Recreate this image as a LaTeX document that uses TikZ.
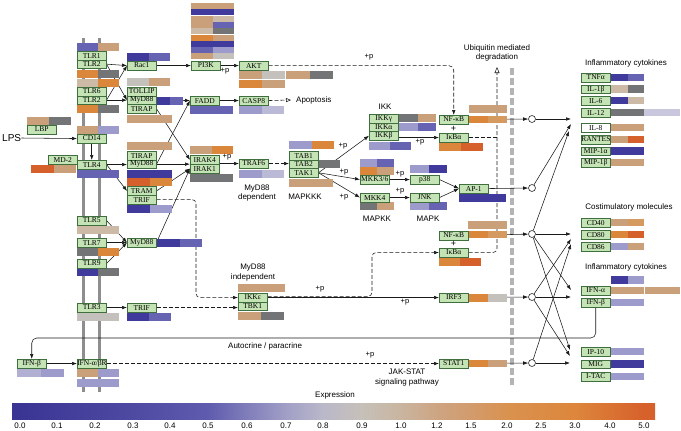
\documentclass[tikz,border=0pt]{standalone}
\usepackage{fontspec}
\setmainfont{Liberation Serif}
\newfontfamily\labfont{Liberation Sans}
\usetikzlibrary{arrows.meta}
\definecolor{dblue}{HTML}{3F3A9B}
\definecolor{mblue}{HTML}{6763B3}
\definecolor{lblue}{HTML}{9D9BCB}
\definecolor{vlblue}{HTML}{BAB9D6}
\definecolor{ctan}{HTML}{C9A07A}
\definecolor{cltan}{HTML}{CDBAA6}
\definecolor{cgray}{HTML}{727476}
\definecolor{clgray}{HTML}{C4C0BB}
\definecolor{corange}{HTML}{DB873B}
\definecolor{cored}{HTML}{D6602B}
\definecolor{ctanor}{HTML}{D49A60}
\definecolor{boxg}{HTML}{C5E4B6}
\definecolor{boxd}{HTML}{3F6E3F}
\definecolor{membc}{HTML}{8E8E8E}
\definecolor{ubqc}{HTML}{B4B4B4}
\definecolor{sa}{HTML}{3A3593}
\definecolor{sb}{HTML}{4E4AA2}
\definecolor{sc}{HTML}{5F5BAE}
\definecolor{sd}{HTML}{A19FC6}
\definecolor{se}{HTML}{BAB8C9}
\definecolor{sf}{HTML}{C6C0B9}
\definecolor{sg}{HTML}{C9B5A0}
\definecolor{sh}{HTML}{CDA583}
\definecolor{si}{HTML}{D29B6C}
\definecolor{sj}{HTML}{D9924F}
\definecolor{sk}{HTML}{DD863C}
\definecolor{sl}{HTML}{D6612B}
\pgfdeclarehorizontalshading{exprshade}{100bp}{color(0bp)=(sa); color(25.6bp)=(sa); color(34.4bp)=(sb); color(40.2bp)=(sc); color(46.3bp)=(sd); color(49.2bp)=(se); color(52.2bp)=(sf); color(55.2bp)=(sg); color(58bp)=(sh); color(60.7bp)=(si); color(63.5bp)=(sj); color(68.8bp)=(sk); color(74.1bp)=(sl); color(100bp)=(sl)}
\pgfdeclarelayer{bg}
\pgfdeclarelayer{mid}
\pgfsetlayers{bg,mid,main}
\newcommand\exbar[5]{\fill[#4] (#1,#2) rectangle ++(#3,7.5); \fill[#5] ({#1+#3},#2) rectangle ++(#3,7.5);}
\newcommand\pirow[3]{\fill[#2] (191,#1) rectangle ++(21.5,6); \fill[#3] (212.5,#1) rectangle ++(21.5,6);}
\newcommand\gn[3]{\node[gbox] (#1) at (#2) {#3};}
\begin{document}
\begin{tikzpicture}[x=1pt,y=-1pt,
  gbox/.style={draw=boxd, fill=boxg, line width=0.5pt, anchor=north west, minimum width=29pt, minimum height=8.6pt, inner sep=0pt, font=\fontsize{7.5}{7.5}\selectfont},
  lab/.style={font=\labfont\fontsize{8}{9.5}\selectfont, inner sep=0pt, align=center},
  plab/.style={font=\labfont\fontsize{7.5}{8}\selectfont, inner sep=0pt},
  tick/.style={font=\labfont\fontsize{8}{9}\selectfont, inner sep=0pt},
  arr/.style={draw=black!90, line width=0.55pt, -{Latex[length=5pt,width=3.6pt]}},
  darr/.style={arr, dash pattern=on 4pt off 2pt},
  dline/.style={draw=black!90, line width=0.55pt, dash pattern=on 4pt off 2pt},
  circ/.style={circle, draw=black!90, fill=white, inner sep=0pt, minimum size=7pt, line width=0.55pt}]
\useasboundingbox (0,0) rectangle (681,431);

% ---------- gene boxes ----------
\gn{TLR1}{77,51}{TLR1}
\gn{TLR2a}{77,59.6}{TLR2}
\gn{TLR6}{77,87}{TLR6}
\gn{TLR2b}{77,95.6}{TLR2}
\gn{LBP}{27,125}{LBP}
\gn{CD14}{77,134}{CD14}
\gn{MD2}{48,155}{MD-2}
\gn{TLR4}{77,160}{TLR4}
\gn{TLR5}{77,216}{TLR5}
\gn{TLR7}{77,238}{TLR7}
\gn{TLR9}{77,259}{TLR9}
\gn{TLR3}{77,303}{TLR3}
\gn{IFNabR}{77,359}{IFN-α/βR}
\gn{IFNbL}{17,359}{IFN-β}
\gn{Rac1}{127,61}{Rac1}
\gn{TOLLIP}{127,87}{TOLLIP}
\gn{MyD88a}{127,95.6}{MyD88}
\gn{TIRAP}{127,104.2}{TIRAP}
\gn{TIRAPb}{127,151}{TIRAP}
\gn{MyD88b}{127,159.6}{MyD88}
\gn{TRAM}{127,186.4}{TRAM}
\gn{TRIF1}{127,195}{TRIF}
\gn{MyD88c}{127,238}{MyD88}
\gn{TRIF2}{127,303}{TRIF}
\gn{PI3K}{191,61}{PI3K}
\gn{AKT}{239,61}{AKT}
\gn{FADD}{190,96}{FADD}
\gn{CASP8}{239,96}{CASP8}
\gn{IRAK4}{190,155.4}{IRAK4}
\gn{IRAK1}{190,164}{IRAK1}
\gn{TRAF6}{239,159}{TRAF6}
\gn{TAB1}{289,151}{TAB1}
\gn{TAB2}{289,159.6}{TAB2}
\gn{TAK1}{289,168.2}{TAK1}
\gn{IKKg}{369,114}{IKKγ}
\gn{IKKa}{369,122.6}{IKKα}
\gn{IKKb}{369,131.2}{IKKβ}
\gn{MKK36}{360,175}{MKK3/6}
\gn{MKK4}{360,193}{MKK4}
\gn{p38}{410,175}{p38}
\gn{JNK}{410,193}{JNK}
\gn{NFkB1}{439,115}{NF-κB}
\gn{IkBa1}{439,133}{IκBα}
\gn{AP1}{459,184}{AP-1}
\gn{NFkB2}{439,231}{NF-κB}
\gn{IkBa2}{439,248}{IκBα}
\gn{IKKe}{238,293}{IKKε}
\gn{TBK1}{238,301.6}{TBK1}
\gn{IRF3}{439,293}{IRF3}
\gn{STAT1}{439,359}{STAT1}
\gn{TNFa}{581,73}{TNFα}
\gn{IL1b}{581,84.7}{IL-1β}
\gn{IL6}{581,96.3}{IL-6}
\gn{IL12}{581,108}{IL-12}
\node[gbox, fill=white] (IL8) at (581,123) {IL-8};
\gn{RANTES}{581,135}{RANTES}
\gn{MIP1a}{581,146.7}{MIP-1α}
\gn{MIP1b}{581,158.3}{MIP-1β}
\gn{CD40}{581,218}{CD40}
\gn{CD80}{581,230}{CD80}
\gn{CD86}{581,242}{CD86}
\gn{IFNa}{581,286}{IFN-α}
\gn{IFNb2}{581,298}{IFN-β}
\gn{IP10}{581,347}{IP-10}
\gn{MIG}{581,359.5}{MIG}
\gn{ITAC}{581,372}{I-TAC}

% circles
\node[circ] (C1) at (532,119) {};
\node[circ] (C2) at (532,188) {};
\node[circ] (C3) at (532,234) {};
\node[circ] (C4) at (532,297) {};
\node[circ] (C5) at (532,363) {};
\coordinate (ti1) at (571,119);
\coordinate (ti2) at (571,124);
\coordinate (ti3) at (569,131);
\coordinate (tc1) at (571,234);
\coordinate (tc2) at (571,239);
\coordinate (tc3) at (571,244);
\coordinate (tf1) at (571,290);
\coordinate (tf2) at (571,297);
\coordinate (tp1) at (570,350);
\coordinate (tp2) at (570,356);
\coordinate (tp3) at (570,363);
\coordinate (ubtop) at (497,67);
\coordinate (tk) at (196,0);
\coordinate (kx) at (372,0);
\coordinate (fb) at (0,338);

% ---------- texts ----------
\node[lab, font=\labfont\fontsize{10}{11}\selectfont, anchor=west] (LPS) at (2,138) {LPS};
\node[lab, anchor=west] (Apop) at (296,100) {Apoptosis};
\node[lab] (Ubq) at (497,53) {Ubiquitin mediated\\degradation};
\node[lab] (IKKl) at (385,107) {IKK};
\node[lab] (MyDd) at (257,193) {MyD88\\dependent};
\node[lab] (MKKKl) at (305,197) {MAPKKK};
\node[lab] (MKKl) at (377,219) {MAPKK};
\node[lab] (MKl) at (428,219) {MAPK};
\node[lab] (MyDi) at (253,272.5) {MyD88\\independent};
\node[lab] (Inf1) at (626,63) {Inflammatory cytokines};
\node[lab] (Cost) at (629,207) {Costimulatory molecules};
\node[lab] (Inf2) at (626,267) {Inflammatory cytokines};
\node[lab, anchor=west] (Auto) at (228,346) {Autocrine / paracrine};
\node[lab] (JAK) at (407,377.5) {JAK-STAT\\signaling pathway};
\node[lab] (Expr) at (335,395) {Expression};
\node[plab] (p1) at (225,71) {+p};
\node[plab] (p2) at (369,57) {+p};
\node[plab] (p3) at (227,157) {+p};
\node[plab] (p4) at (343,146) {+p};
\node[plab] (p5) at (344,172) {+p};
\node[plab] (p6) at (344,197) {+p};
\node[plab] (p7) at (400,174) {+p};
\node[plab] (p8) at (400,191) {+p};
\node[plab] (p9) at (420,142) {+p};
\node[plab] (p10) at (320,289) {+p};
\node[plab] (p11) at (405,302) {+p};
\node[plab] (p12) at (370,355) {+p};
\node[lab, font=\labfont\fontsize{9}{9}\selectfont] (pl1) at (453.5,128.5) {+};
\node[lab, font=\labfont\fontsize{9}{9}\selectfont] (pl2) at (453.5,244) {+};

% colour bar
\shade[shading=exprshade] (12,403) rectangle (655,419);
\foreach \x/\v [count=\i] in {20/0.0,57/0.1,95/0.2,133/0.3,170/0.4,208/0.5,247/0.6,286/0.7,323/0.8,362/0.9,401/1.0,437/1.2,471/1.5,507/2.0,541/2.5,575/3.0,610/4.0,644/5.0}
  \node[tick] (t\i) at (\x,425.5) {\v};

% ---------- expression bars ----------
\begin{pgfonlayer}{mid}
\exbar{77}{43}{21}{mblue}{ctan}
\exbar{77}{70}{21}{corange}{cgray}
\exbar{77}{79}{21}{cltan}{corange}
\exbar{77}{105}{21}{corange}{cgray}
\exbar{27}{117}{22}{ctan}{cgray}
\exbar{77}{126}{21}{ctan}{lblue}
\exbar{31}{165}{22.5}{cored}{ctan}
\exbar{77}{170}{21}{mblue}{mblue}
\exbar{77}{226}{21}{cltan}{cltan}
\exbar{77}{248}{21}{cgray}{corange}
\exbar{77}{268}{21}{dblue}{cgray}
\exbar{77}{313}{21}{clgray}{clgray}
\exbar{77}{369}{21}{ctan}{lblue}
\exbar{77}{379}{21}{lblue}{lblue}
\exbar{17}{369}{23.5}{vlblue!70!lblue}{lblue}
\exbar{127}{53}{21.5}{dblue}{mblue}
\exbar{127}{78}{21.5}{clgray}{ctan}
\exbar{157}{97}{13}{dblue}{mblue}
\exbar{127}{115}{22.5}{ctan}{ctan}
\exbar{127}{142}{22.5}{ctan}{ctan}
\exbar{127}{170}{22.5}{dblue}{dblue}
\exbar{127}{178}{22.5}{cored}{corange}
\exbar{127}{205}{22.5}{dblue}{lblue}
\exbar{157}{239}{22.5}{dblue}{mblue}
\exbar{127}{313}{22}{dblue}{mblue}
\pirow{3}{ctan}{ctan}
\pirow{9.3}{dblue}{dblue}
\pirow{15.6}{ctan}{cltan}
\pirow{21.9}{ctan}{mblue}
\pirow{28.2}{cltan}{cgray}
\pirow{34.5}{corange}{ctan}
\pirow{40.8}{dblue}{dblue}
\pirow{47.1}{mblue}{lblue}
\pirow{53.4}{ctan}{clgray}
\exbar{239}{71}{23}{ctan}{clgray}
\exbar{239}{80}{23}{corange}{ctan}
\exbar{286}{71}{23.5}{ctan}{cgray}
\exbar{190}{106}{21.5}{mblue}{mblue}
\exbar{239}{106}{22.5}{lblue}{vlblue}
\exbar{190}{146}{21.5}{ctan}{corange}
\exbar{190}{174}{21.5}{cgray}{cgray}
\exbar{239}{170}{22.5}{lblue}{vlblue}
\exbar{289}{141}{22.5}{lblue}{corange}
\exbar{318}{160}{11}{cgray}{cgray}
\exbar{289}{179}{22}{ctan}{ctan}
\exbar{399}{114}{18.5}{cgray}{ctan}
\exbar{399}{123}{18.5}{lblue}{mblue}
\exbar{369}{142}{21}{lblue}{mblue}
\exbar{360}{159}{17}{lblue}{mblue}
\exbar{360}{167}{17}{corange}{ctan}
\exbar{360}{202}{17}{cgray}{ctan}
\exbar{410}{165}{18.5}{lblue}{dblue}
\exbar{410}{202}{18.5}{lblue}{mblue}
\exbar{469}{105}{19}{ctan}{ctan}
\exbar{469}{115.5}{19}{corange}{ctanor}
\exbar{439}{143}{22}{corange}{cored}
\exbar{459}{194}{23.5}{dblue}{dblue}
\exbar{468}{221}{19.5}{ctan}{ctan}
\exbar{468}{230.5}{19.5}{corange}{ctanor}
\exbar{439}{258}{21}{corange}{cored}
\exbar{238}{284}{23.5}{ctan}{ctan}
\exbar{238}{312}{23}{ctan}{cgray}
\exbar{468}{294}{19.5}{corange}{clgray}
\exbar{468}{359.5}{19.5}{corange}{ctan}
\exbar{611}{73.5}{16.5}{dblue}{mblue}
\exbar{611}{85}{16.5}{cltan}{cgray}
\exbar{611}{96.5}{16.5}{dblue}{cltan}
\exbar{611}{108.5}{16.5}{cgray}{cgray}
\fill[vlblue!80!white] (644,108.5) rectangle ++(36,7.5);
\exbar{611}{123.5}{16.5}{ctan}{ctan}
\exbar{611}{135.5}{16.5}{ctan}{cored}
\exbar{611}{147}{16.5}{dblue}{dblue}
\exbar{611}{158.5}{16.5}{ctan}{ctan}
\exbar{611}{218.5}{16.5}{ctan}{ctanor}
\exbar{611}{230.5}{16.5}{corange}{cored}
\exbar{611}{242.5}{16.5}{lblue}{ctan}
\exbar{611}{276}{16.5}{dblue}{lblue}
\exbar{611}{286.5}{16.5}{ctan}{ctan}
\exbar{645}{286.5}{17.5}{ctan}{ctan}
\exbar{611}{298.5}{16.5}{lblue}{lblue}
\exbar{611}{347.5}{16.5}{lblue}{lblue}
\exbar{611}{360}{16.5}{dblue}{dblue}
\exbar{611}{372.5}{16.5}{lblue}{lblue}
\end{pgfonlayer}

% ---------- connectors ----------
\begin{pgfonlayer}{bg}
\draw[membc, line width=3pt] (83,38) -- (83,392);
\draw[membc, line width=3pt] (99,38) -- (99,392);
\draw[ubqc, line width=4pt, dash pattern=on 7pt off 3pt] (512,68) -- (512,385);
\draw[arr] (LPS.east) -- (CD14.west);
\draw[arr] (CD14) -- (TLR4);
\draw[arr] (TLR2a.east) -- (Rac1.west);
\draw[arr] (TLR2a.east) -- (MyD88a.west);
\draw[arr] (TLR2b.east) -- (Rac1.west);
\draw[arr] (TLR2b.east) -- (MyD88a.west);
\draw[arr] (Rac1) -- (PI3K);
\draw[arr] (PI3K) -- (AKT);
\draw[darr, rounded corners=5] (AKT.east) -| (NFkB1.north);
\draw[arr] (MyD88a.east) -- (FADD.west);
\draw[arr] (FADD) -- (CASP8);
\draw[dline, -{Triangle[open,length=5pt,width=4pt]}] (CASP8.east) -- ([xshift=-5pt]Apop.west);
\draw[arr] (TIRAP.east) -- (IRAK4.west);
\draw[arr] (MyD88b.east) -- (FADD.west);
\draw[arr] (MyD88b.east) -- (MyD88b.east -| IRAK4.west);
\draw[arr] (TRAM.east) -- (IRAK1.west);
\draw[arr] (MyD88c.east) -- (IRAK1.west);
\draw[arr] (TLR4.east) -- (TLR4.east -| MyD88b.west);
\draw[arr] (TLR4.east) -- (TRAM.west);
\draw[arr] (TRAF6.west -| IRAK4.east) -- (TRAF6.west);
\draw[darr] (TRAF6.east) -- (TRAF6.east -| TAB2.west);
\draw[arr] (TAK1.east) -- (MKK36.west);
\draw[arr] (TAK1.east) -- (MKK4.west);
\draw[arr] (TAK1.east) -- (IKKb.west);
\draw[arr] (MKK36) -- (p38);
\draw[arr] (MKK4) -- (JNK);
\draw[arr] (p38.east) -- (AP1.west);
\draw[arr] (JNK.east) -- (AP1.west);
\draw[arr] (IkBa1.west -| IKKb.east) -- (IkBa1.west);
\draw[dline] (IkBa1.east) -- (IkBa1.east -| ubtop);
\draw[dline, rounded corners=4, -{Triangle[open,length=6pt,width=5pt]}] (IkBa2.east) -| (ubtop);
\draw[arr] (NFkB1.east) -- (C1);
\draw[arr] (AP1.east) -- (C2);
\draw[arr] (NFkB2.east) -- (C3);
\draw[arr] (IRF3.east) -- (C4);
\draw[arr] (STAT1.east) -- (C5);
\draw[arr] (C1) -- (ti1);
\draw[arr] (C2) -- (ti2);
\draw[arr] (C3) -- (ti3);
\draw[arr] (C3) -- (tc1);
\draw[arr] (C4) -- (tc2);
\draw[arr] (C5) -- (tc3);
\draw[arr] (C3) -- (tf1);
\draw[arr] (C4) -- (tf2);
\draw[arr] (C3) -- (tp1);
\draw[arr] (C4) -- (tp2);
\draw[arr] (C5) -- (tp3);
\draw[darr, rounded corners=4] (TRIF1.east) -| (tk |- IKKe.west) -- (IKKe.west);
\draw[darr] (TRIF2.east) -- (TRIF2.east -| TBK1.west);
\draw[arr] (TLR3) -- (TRIF2);
\draw[darr, rounded corners=4] ([yshift=1.2pt]IKKe.east) -| (kx |- IkBa2.west) -- (IkBa2.west);
\draw[arr] (IKKe.east) -- (IRF3.west);
\draw[arr] (IFNbL) -- (IFNabR);
\draw[darr] (IFNabR.east) -- (STAT1.west);
\draw[arr, rounded corners=5] (IFNb2.south) -- (IFNb2.south |- fb) -| (IFNbL.north);
\draw[arr] (TLR5.east) -- (MyD88c.west);
\draw[arr] (TLR7.east) -- (MyD88c.west);
\draw[arr] (TLR9.east) -- (MyD88c.west);
\end{pgfonlayer}
\end{tikzpicture}
\end{document}
